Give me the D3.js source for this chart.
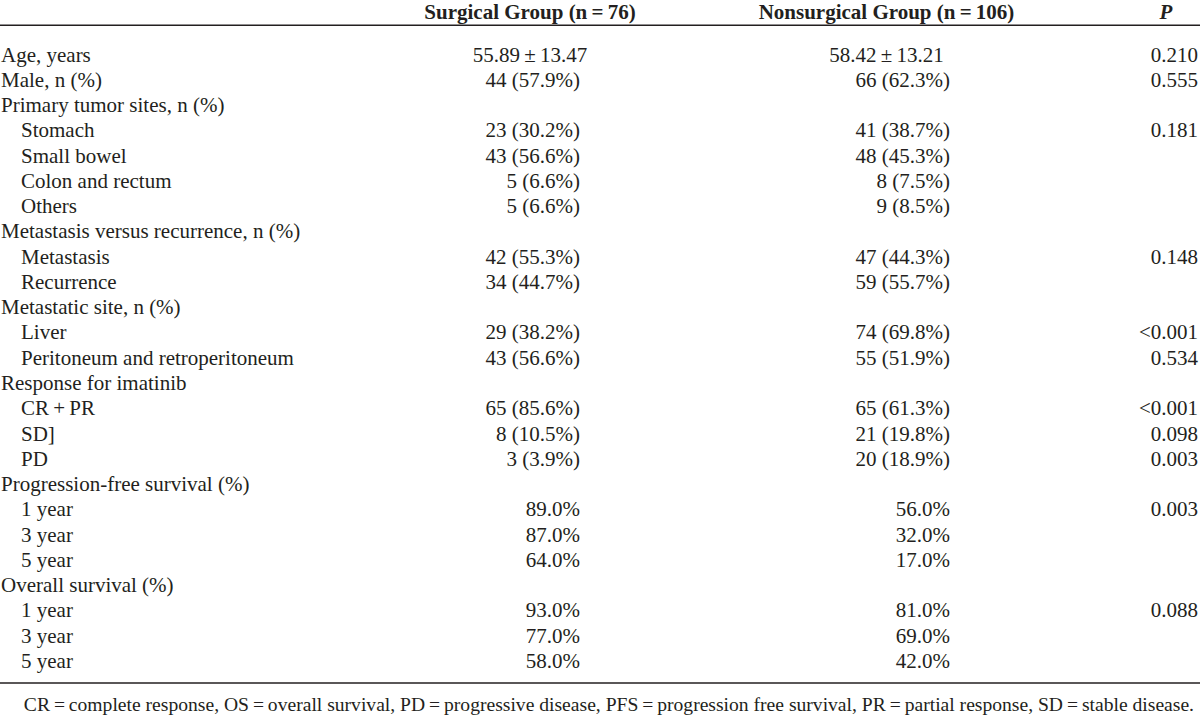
<!DOCTYPE html>
<html>
<head>
<meta charset="utf-8">
<script src="https://cdn.jsdelivr.net/npm/d3@7/dist/d3.min.js"></script>
<style>
  html, body { margin: 0; padding: 0; background: #fff; }
  svg { display: block; }
  text { font-family: "Liberation Serif", "Times New Roman", serif; fill: #231f20; }
</style>
</head>
<body>
<svg id="chart" width="1200" height="717"></svg>
<script>
// ---- data ----
const headers = ["", "Surgical Group (n\u2009=\u200976)", "Nonsurgical Group (n\u2009=\u2009106)", "P"];

const rowLabels = [
  "Age, years", "Male, n (%)", "Primary tumor sites, n (%)", "Stomach", "Small bowel",
  "Colon and rectum", "Others", "Metastasis versus recurrence, n (%)", "Metastasis", "Recurrence",
  "Metastatic site, n (%)", "Liver", "Peritoneum and retroperitoneum", "Response for imatinib",
  "CR\u2009+\u2009PR", "SD]", "PD", "Progression-free survival (%)", "1 year", "3 year", "5 year",
  "Overall survival (%)", "1 year", "3 year", "5 year"
];

const rowIndent = [0,0,0,1,1,1,1,0,1,1,0,1,1,0,1,1,1,0,1,1,1,0,1,1,1];

const surgical = [
  "55.89\u2009\u00b1\u200913.47", "44 (57.9%)", "", "23 (30.2%)", "43 (56.6%)",
  "5 (6.6%)", "5 (6.6%)", "", "42 (55.3%)", "34 (44.7%)",
  "", "29 (38.2%)", "43 (56.6%)", "",
  "65 (85.6%)", "8 (10.5%)", "3 (3.9%)", "", "89.0%", "87.0%", "64.0%",
  "", "93.0%", "77.0%", "58.0%"
];

const nonsurgical = [
  "58.42\u2009\u00b1\u200913.21", "66 (62.3%)", "", "41 (38.7%)", "48 (45.3%)",
  "8 (7.5%)", "9 (8.5%)", "", "47 (44.3%)", "59 (55.7%)",
  "", "74 (69.8%)", "55 (51.9%)", "",
  "65 (61.3%)", "21 (19.8%)", "20 (18.9%)", "", "56.0%", "32.0%", "17.0%",
  "", "81.0%", "69.0%", "42.0%"
];

const pValues = [
  "0.210", "0.555", "", "0.181", "", "", "", "", "0.148", "",
  "", "<0.001", "0.534", "", "<0.001", "0.098", "0.003", "", "0.003", "", "",
  "", "0.088", "", ""
];

const footnote = "CR\u2009=\u2009complete response, OS\u2009=\u2009overall survival, PD\u2009=\u2009progressive disease, PFS\u2009=\u2009progression free survival, PR\u2009=\u2009partial response, SD\u2009=\u2009stable disease.";

// ---- layout ----
const svg = d3.select("#chart");
const W = 1200;
const fontSize = 21;

const y = d3.scalePoint().domain(d3.range(rowLabels.length)).range([61.5, 668]);

// column centres (for header and mean ± SD) and right edges (for counts / percentages)
const colCenter = d3.scaleOrdinal().domain(["surg", "non"]).range([530, 886.5]);
const colRight = d3.scaleOrdinal().domain(["surg", "non"]).range([580, 950]);
const labelX = 1, indentW = 20, pRight = 1198;

// header
const hdr = svg.append("g").attr("font-weight", "bold").attr("font-size", fontSize);
hdr.append("text").attr("x", colCenter("surg")).attr("y", 18.5).attr("text-anchor", "middle").text(headers[1]);
hdr.append("text").attr("x", colCenter("non")).attr("y", 18.5).attr("text-anchor", "middle").text(headers[2]);
hdr.append("text").attr("x", 1166).attr("y", 18.5).attr("text-anchor", "middle").attr("font-style", "italic").text(headers[3]);

// rules
svg.append("line").attr("x1", 0).attr("x2", W).attr("y1", 25.3).attr("y2", 25.3)
  .attr("stroke", "#231f20").attr("stroke-width", 1.6);
svg.append("line").attr("x1", 0).attr("x2", W).attr("y1", 683).attr("y2", 683)
  .attr("stroke", "#231f20").attr("stroke-width", 1.6);

// body
const body = svg.append("g").attr("font-size", fontSize);
const rows = body.selectAll("g.row").data(rowLabels.map((d, i) => i)).join("g").attr("class", "row");

rows.append("text")
  .attr("x", i => labelX + rowIndent[i] * indentW)
  .attr("y", i => y(i))
  .text(i => rowLabels[i]);

function valueCell(key, arr) {
  rows.append("text")
    .attr("y", i => y(i))
    .attr("x", i => arr[i].includes("\u00b1") ? colCenter(key) : colRight(key))
    .attr("text-anchor", i => arr[i].includes("\u00b1") ? "middle" : "end")
    .text(i => arr[i]);
}
valueCell("surg", surgical);
valueCell("non", nonsurgical);

rows.append("text")
  .attr("x", pRight).attr("y", i => y(i)).attr("text-anchor", "end")
  .text(i => pValues[i]);

// footnote
svg.append("text").attr("x", 1194).attr("y", 711).attr("text-anchor", "end")
  .attr("font-size", 19.6).text(footnote);
</script>
</body>
</html>
